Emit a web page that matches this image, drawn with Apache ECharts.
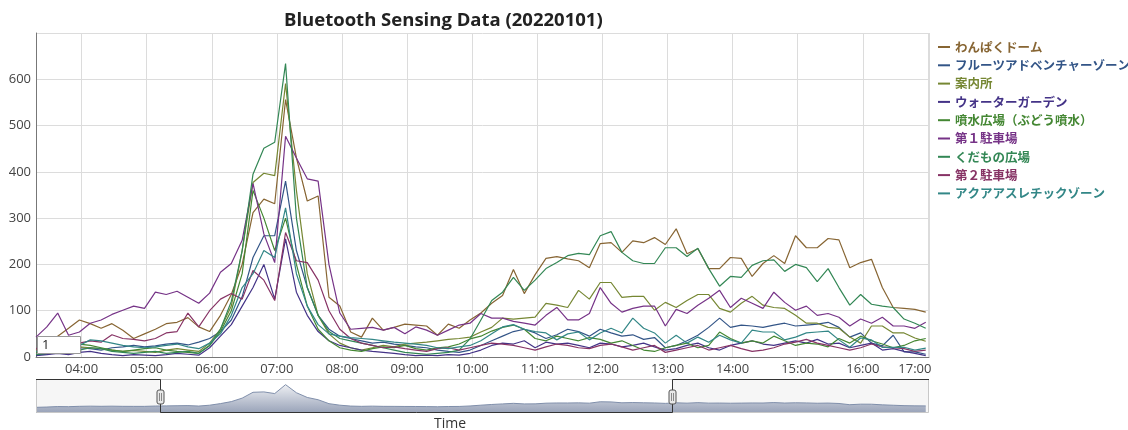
<!DOCTYPE html>
<html>
<head>
<meta charset="utf-8">
<title>Bluetooth Sensing Data (20220101)</title>
<script src="https://cdn.jsdelivr.net/npm/echarts@6/dist/echarts.min.js"></script>
<style>
    html, body { margin: 0; padding: 0; background: #fff; }
    #chart { width: 1128px; height: 430px; }
</style>
</head>
<body>
<div id="chart"></div>
<script>
//時刻：03:18から10分ごと
var startTime = new Date(2022, 0, 1, 3, 18).getTime();
var endTime = new Date(2022, 0, 1, 17, 1).getTime();
var stepMinutes = 10;
//レンジセレクタの選択範囲
var windowStart = new Date(2022, 0, 1, 5, 12).getTime();
var windowEnd = new Date(2022, 0, 1, 13, 4).getTime();

var names = ['わんぱくドーム', 'フルーツアドベンチャーゾーン', '案内所', 'ウォーターガーデン',
    '噴水広場（ぶどう噴水）', '第１駐車場', 'くだもの広場', '第２駐車場', 'アクアアスレチックゾーン'];
var colors = ['#876533', '#335587', '#768733', '#443387', '#448733', '#763387', '#338755', '#873365', '#338787'];

var wanpaku = [15, 20, 45, 62, 80, 72, 62, 72, 58, 40,
    50, 60, 72, 75, 85, 65, 55, 90, 135, 200,
    312, 341, 331, 556, 430, 337, 348, 129, 110, 54,
    43, 84, 58, 64, 71, 69, 67, 47, 71, 62,
    80, 95, 116, 133, 189, 137, 178, 213, 217, 212,
    208, 193, 245, 247, 226, 251, 247, 258, 243, 277,
    223, 234, 191, 191, 215, 213, 174, 202, 219, 202,
    262, 236, 236, 256, 253, 193, 204, 211, 150, 107,
    105, 103, 97];
var fruits = [5, 6, 10, 15, 20, 18, 15, 20, 22, 25,
    22, 24, 28, 30, 26, 32, 40, 55, 80, 130,
    215, 262, 262, 380, 230, 150, 90, 60, 45, 40,
    35, 30, 32, 28, 25, 22, 20, 15, 12, 10,
    15, 25, 35, 45, 55, 60, 52, 40, 48, 60,
    55, 45, 60, 52, 45, 48, 38, 42, 20, 25,
    35, 47, 64, 84, 64, 69, 67, 64, 69, 73,
    67, 69, 71, 75, 64, 43, 52, 30, 24, 47,
    11, 11, 6];
var annaijo = [10, 12, 15, 18, 22, 20, 18, 15, 12, 14,
    12, 10, 15, 18, 15, 12, 30, 60, 110, 230,
    377, 397, 392, 591, 360, 180, 90, 50, 30, 20,
    15, 20, 25, 22, 28, 30, 32, 35, 38, 40,
    43, 54, 64, 84, 82, 84, 86, 116, 112, 107,
    144, 125, 161, 161, 129, 131, 131, 101, 118, 107,
    122, 135, 135, 105, 97, 116, 131, 112, 107, 105,
    90, 73, 73, 64, 62, 43, 30, 67, 67, 52,
    52, 41, 34];
var water = [3, 5, 8, 5, 10, 12, 8, 5, 3, 5,
    4, 3, 5, 8, 6, 4, 20, 45, 70, 110,
    150, 200, 125, 255, 140, 90, 55, 35, 25, 20,
    15, 12, 10, 8, 5, 3, 4, 3, 5, 4,
    8, 15, 25, 30, 28, 35, 20, 32, 28, 30,
    25, 20, 30, 28, 22, 25, 30, 22, 15, 18,
    25, 30, 20, 15, 25, 30, 35, 28, 25, 30,
    35, 30, 38, 28, 30, 20, 25, 30, 15, 18,
    12, 8, 3];
var funsui = [10, 15, 18, 22, 28, 25, 20, 15, 12, 15,
    18, 20, 15, 12, 10, 8, 25, 55, 100, 180,
    360, 300, 230, 300, 200, 110, 60, 35, 20, 15,
    12, 18, 22, 20, 25, 18, 15, 20, 22, 28,
    39, 45, 56, 64, 69, 60, 40, 35, 45, 40,
    35, 42, 38, 30, 35, 25, 15, 12, 20, 25,
    30, 20, 25, 54, 40, 30, 35, 30, 45, 35,
    25, 30, 28, 22, 40, 30, 45, 35, 28, 20,
    25, 35, 40];
var dai1 = [43, 65, 95, 47, 54, 73, 80, 92, 101, 110,
    105, 140, 135, 142, 129, 116, 138, 183, 202, 252,
    375, 266, 204, 477, 430, 385, 380, 200, 95, 60,
    62, 64, 58, 64, 50, 65, 58, 47, 58, 69,
    73, 94, 84, 84, 77, 73, 69, 90, 107, 80,
    80, 94, 150, 116, 97, 105, 110, 110, 67, 103,
    94, 112, 127, 144, 107, 127, 116, 105, 140, 118,
    101, 110, 90, 94, 86, 67, 82, 73, 86, 67,
    67, 62, 75];
var kudamono = [5, 8, 12, 10, 15, 20, 18, 12, 10, 8,
    10, 12, 8, 10, 12, 8, 25, 60, 120, 230,
    395, 451, 464, 634, 300, 150, 90, 55, 40, 35,
    30, 25, 20, 15, 10, 8, 6, 8, 10, 15,
    39, 80, 122, 140, 172, 144, 166, 191, 204, 219,
    224, 221, 262, 271, 226, 208, 202, 202, 236, 236,
    217, 235, 191, 153, 174, 172, 198, 208, 210, 185,
    200, 193, 163, 191, 150, 112, 135, 114, 110, 107,
    82, 73, 62];
var dai2 = [18, 22, 25, 28, 30, 35, 32, 48, 40, 38,
    35, 40, 52, 55, 95, 65, 100, 125, 137, 125,
    187, 166, 122, 269, 208, 204, 166, 100, 60, 40,
    30, 25, 20, 22, 18, 15, 12, 18, 20, 15,
    20, 25, 30, 28, 25, 20, 15, 22, 28, 25,
    20, 18, 25, 28, 22, 15, 20, 25, 10, 15,
    20, 25, 15, 20, 25, 18, 12, 15, 20, 28,
    32, 38, 30, 25, 20, 15, 20, 28, 22, 20,
    18, 12, 15];
var aqua = [12, 15, 18, 20, 25, 37, 35, 30, 25, 22,
    20, 22, 25, 28, 22, 18, 30, 50, 90, 150,
    180, 230, 215, 322, 180, 110, 70, 50, 45, 42,
    40, 38, 35, 32, 30, 28, 25, 20, 18, 22,
    25, 35, 50, 65, 70, 60, 55, 52, 37, 50,
    54, 37, 52, 62, 52, 84, 62, 52, 30, 47,
    30, 43, 32, 47, 37, 30, 58, 54, 54, 37,
    43, 52, 54, 56, 37, 21, 41, 37, 21, 21,
    21, 15, 19];

var values = [wanpaku, fruits, annaijo, water, funsui, dai1, kudamono, dai2, aqua];

//レイアウト
var plotLeft = 36, plotRight = 199, plotTop = 33, plotBottom = 73;
var navTop = 379, navHeight = 34;

var chart = echarts.init(document.getElementById('chart'));

//時刻の配列
var times = [];
for (var i = 0; i < wanpaku.length; i++) {
    times.push(startTime + i * stepMinutes * 60000);
}

//レンジセレクタ用：全系列の平均
var navData = [];
var navMin = Infinity, navMax = -Infinity;
for (var i = 0; i < times.length; i++) {
    var sum = 0;
    for (var s = 0; s < values.length; s++) {
        sum += values[s][i];
    }
    var avg = sum / values.length;
    navMin = Math.min(navMin, avg);
    navMax = Math.max(navMax, avg);
    navData.push([times[i], avg]);
}
var navExtra = (navMax - navMin) * 0.25;

var series = [];
for (var s = 0; s < names.length; s++) {
    var pts = [];
    for (var i = 0; i < times.length; i++) {
        pts.push([times[i], values[s][i]]);
    }
    series.push({
        name: names[s],
        type: 'line',
        data: pts,
        showSymbol: false,
        color: colors[s],
        lineStyle: { width: 1.2, color: colors[s] },
        emphasis: { disabled: true }
    });
}
series.push({
    type: 'line',
    xAxisIndex: 1,
    yAxisIndex: 1,
    data: navData,
    showSymbol: false,
    silent: true,
    lineStyle: { width: 1, color: '#808fab' },
    areaStyle: {
        origin: 'start',
        opacity: 1,
        color: {
            type: 'linear', x: 0, y: navTop, x2: 0, y2: navTop + navHeight, global: true,
            colorStops: [{ offset: 0, color: '#ffffff' }, { offset: 1, color: '#98a2b8' }]
        }
    },
    markArea: {
        silent: true,
        itemStyle: { color: 'rgba(240,240,240,0.6)' },
        data: [
            [{ xAxis: startTime }, { xAxis: windowStart }],
            [{ xAxis: windowEnd }, { xAxis: endTime }]
        ]
    }
});

var legendData = [];
for (var s = 0; s < names.length; s++) {
    legendData.push({ name: names[s], textStyle: { color: colors[s] } });
}

//時刻ラベル（右端の17:00は左へ寄せる）
function timeLabel(value) {
    var d = new Date(value);
    var hh = (d.getHours() < 10 ? '0' : '') + d.getHours();
    var mm = (d.getMinutes() < 10 ? '0' : '') + d.getMinutes();
    var text = hh + ':' + mm;
    if (d.getHours() === 17) {
        return '{last|' + text + '}';
    }
    return text;
}

var option = {
    animation: false,
    backgroundColor: '#fff',
    title: {
        text: 'Bluetooth Sensing Data (20220101)',
        left: 279,
        top: 6,
        textStyle: { fontFamily: 'Open Sans', fontSize: 18.5, fontWeight: 'bold', color: '#222' }
    },
    legend: {
        orient: 'vertical',
        left: 933,
        top: 35,
        icon: 'rect',
        itemWidth: 12,
        itemHeight: 2,
        itemGap: 4.3,
        selectedMode: false,
        data: legendData,
        textStyle: { fontFamily: 'Noto Sans CJK JP', fontSize: 12.5, fontWeight: 'bold', lineHeight: 14 }
    },
    grid: [
        { left: plotLeft, right: plotRight, top: plotTop, bottom: plotBottom },
        { left: plotLeft, right: plotRight, top: navTop, height: navHeight }
    ],
    xAxis: [{
        type: 'time',
        min: startTime,
        max: endTime,
        minInterval: 3600000,
        maxInterval: 3600000,
        axisLine: { lineStyle: { color: '#777' } },
        axisTick: { show: false },
        axisLabel: {
            formatter: timeLabel,
            color: '#444',
            fontFamily: 'Open Sans',
            fontSize: 13,
            margin: 6,
            hideOverlap: false,
            rich: {
                last: { color: '#444', fontFamily: 'Open Sans', fontSize: 13, padding: [0, 26, 0, 0] }
            }
        },
        splitLine: { show: true, lineStyle: { color: '#dcdcdc' } }
    }, {
        type: 'time',
        gridIndex: 1,
        min: startTime,
        max: endTime,
        show: false
    }],
    yAxis: [{
        type: 'value',
        min: 0,
        max: 700,
        interval: 100,
        axisLine: { show: true, lineStyle: { color: '#777' } },
        axisTick: { show: false },
        axisLabel: { color: '#444', fontFamily: 'Open Sans', fontSize: 13, margin: 5, showMaxLabel: false },
        splitLine: { lineStyle: { color: '#dcdcdc' } }
    }, {
        type: 'value',
        gridIndex: 1,
        min: navMin - navExtra,
        max: navMax + navExtra,
        show: false
    }],
    series: series
};

chart.setOption(option);

//レンジセレクタの枠とハンドル、ロール期間の入力欄
var x0 = chart.convertToPixel({ xAxisIndex: 1 }, startTime);
var x3 = chart.convertToPixel({ xAxisIndex: 1 }, endTime);
var x1 = Math.round(chart.convertToPixel({ xAxisIndex: 1 }, windowStart)) + 0.5;
var x2 = Math.round(chart.convertToPixel({ xAxisIndex: 1 }, windowEnd)) + 0.5;
var yTop = navTop + 0.5, yBot = navTop + navHeight - 0.5;

function handle(x) {
    return [{
        type: 'rect',
        shape: { x: x - 3.5, y: navTop + 11, width: 7, height: 14, r: 2 },
        style: { fill: '#e8e8e8', stroke: '#555', lineWidth: 1 },
        z: 100
    }, {
        type: 'line',
        shape: { x1: x - 1, y1: navTop + 14, x2: x - 1, y2: navTop + 22 },
        style: { stroke: '#888', lineWidth: 1 },
        z: 101
    }, {
        type: 'line',
        shape: { x1: x + 1, y1: navTop + 14, x2: x + 1, y2: navTop + 22 },
        style: { stroke: '#888', lineWidth: 1 },
        z: 101
    }];
}

var graphics = [{
    type: 'rect',
    shape: { x: x0 + 0.5, y: yTop, width: x3 - x0 - 1, height: navHeight - 1 },
    style: { fill: null, stroke: '#c8c8c8', lineWidth: 1 },
    z: 98
}, {
    type: 'polyline',
    shape: { points: [[x0, yTop], [x1, yTop], [x1, yBot], [x2, yBot], [x2, yTop], [x3, yTop]] },
    style: { fill: null, stroke: '#333', lineWidth: 1 },
    z: 99
}, {
    type: 'rect',
    shape: { x: 37.5, y: 336.5, width: 43, height: 17 },
    style: { fill: '#fff', stroke: '#999', lineWidth: 1 },
    z: 100
}, {
    type: 'text',
    x: 42,
    y: 345,
    style: { text: '1', fill: '#222', fontFamily: 'Open Sans', fontSize: 13, verticalAlign: 'middle' },
    z: 101
}, {
    type: 'text',
    x: 450,
    y: 424,
    style: { text: 'Time', fill: '#333', fontFamily: 'Open Sans', fontSize: 14, align: 'center', verticalAlign: 'middle' },
    z: 101
}];
graphics = graphics.concat(handle(x1), handle(x2));

chart.setOption({ graphic: graphics });

window.onresize = function () {
    chart.resize();
};
</script>
</body>
</html>
